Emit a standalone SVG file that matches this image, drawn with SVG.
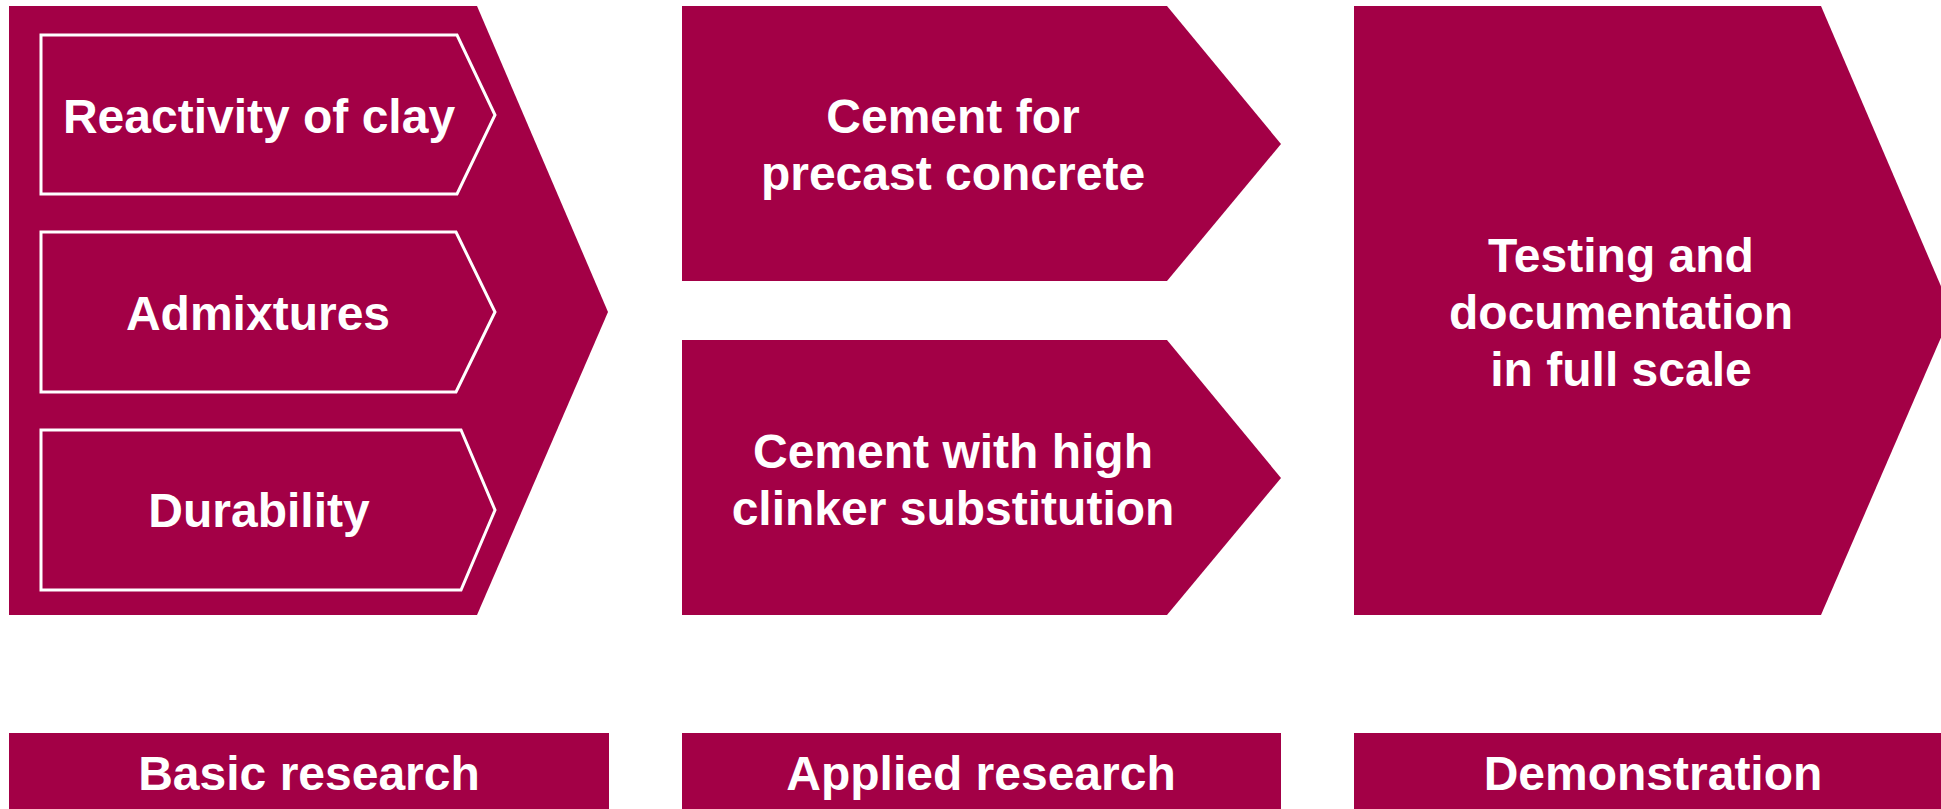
<svg xmlns="http://www.w3.org/2000/svg" width="1941" height="809" viewBox="0 0 1941 809">
  <style>
    .shape { fill: #A30046; }
    .inner { fill: none; stroke: #ffffff; stroke-width: 3; }
    .label { font-family: "Liberation Sans", Arial, sans-serif; font-weight: bold; font-size: 48px; fill: #ffffff; text-anchor: middle; }
  </style>
  <rect width="1941" height="809" fill="#ffffff"/>

  <!-- Stage 1: basic research chevron with three sub-topics -->
  <g id="basic-chevron">
    <polygon class="shape" points="9,6 477,6 608,312 477,615 9,615"/>
  </g>
  <g id="reactivity">
    <polygon class="inner" points="41,35 457,35 495,115 457,194 41,194"/>
    <text class="label" x="259" y="133">Reactivity of clay</text>
  </g>
  <g id="admixtures">
    <polygon class="inner" points="41,232 456,232 495,312 456,392 41,392"/>
    <text class="label" x="258" y="330">Admixtures</text>
  </g>
  <g id="durability">
    <polygon class="inner" points="41,430 461,430 495,510 461,590 41,590"/>
    <text class="label" x="259" y="527">Durability</text>
  </g>

  <!-- Stage 2: applied research -->
  <g id="precast">
    <polygon class="shape" points="682,6 1167,6 1281,144 1167,281 682,281"/>
    <text class="label" x="953" y="133">Cement for</text>
    <text class="label" x="953" y="190">precast concrete</text>
  </g>
  <g id="clinker">
    <polygon class="shape" points="682,340 1167,340 1281,478 1167,615 682,615"/>
    <text class="label" x="953" y="468">Cement with high</text>
    <text class="label" x="953" y="525">clinker substitution</text>
  </g>

  <!-- Stage 3: demonstration -->
  <g id="full-scale">
    <polygon class="shape" points="1354,6 1821,6 1952,312 1821,615 1354,615"/>
    <text class="label" x="1621" y="272">Testing and</text>
    <text class="label" x="1621" y="329">documentation</text>
    <text class="label" x="1621" y="386">in full scale</text>
  </g>

  <!-- Phase captions -->
  <g id="caption-basic">
    <rect class="shape" x="9" y="733" width="600" height="76"/>
    <text class="label" x="309" y="790">Basic research</text>
  </g>
  <g id="caption-applied">
    <rect class="shape" x="682" y="733" width="599" height="76"/>
    <text class="label" x="981" y="790">Applied research</text>
  </g>
  <g id="caption-demo">
    <rect class="shape" x="1354" y="733" width="587" height="76"/>
    <text class="label" x="1653" y="790">Demonstration</text>
  </g>

  <g id="connectors"/>
</svg>
